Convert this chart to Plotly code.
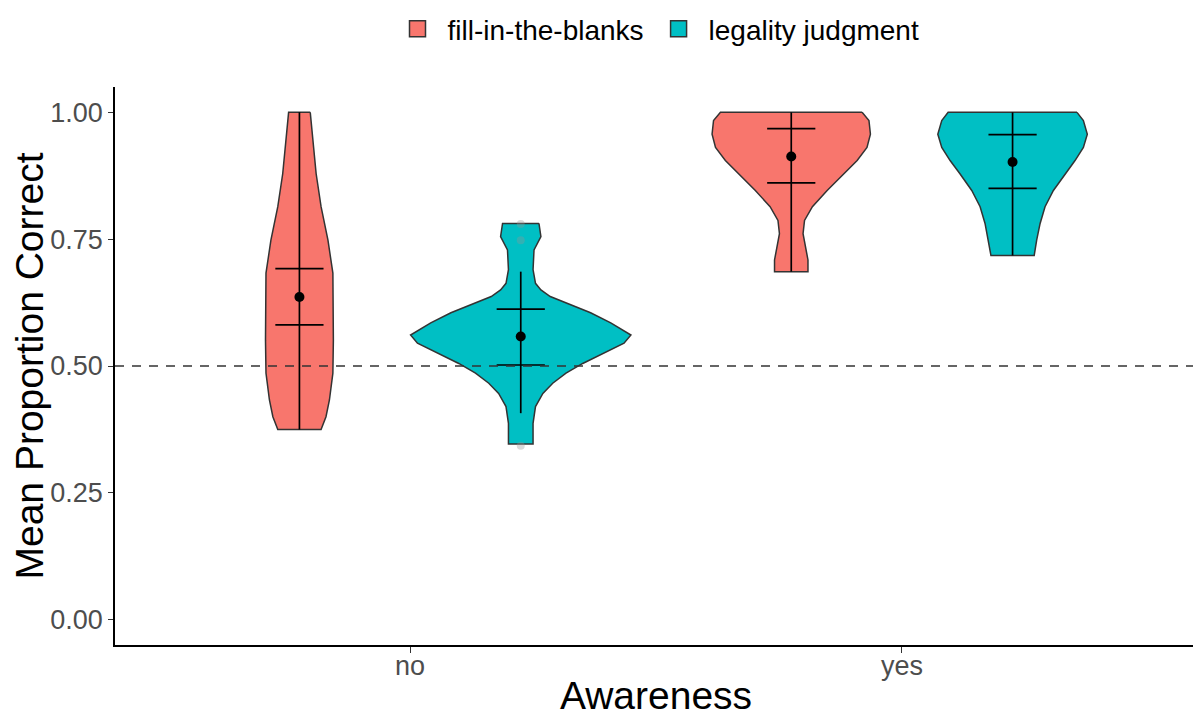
import plotly.graph_objects as go

# ---------------- data ----------------
categories = ["no", "yes"]
groups = ["fill-in-the-blanks", "legality judgment"]
colors = ["#F8766D", "#00BFC4"]

# violin outlines: y levels and half-widths (x-axis units)
fill_no_y = [1.00, 0.945, 0.879, 0.814, 0.748, 0.683, 0.617, 0.551, 0.486, 0.433, 0.400, 0.375]
fill_no_w = [0.022, 0.027, 0.034, 0.044, 0.058, 0.068, 0.069, 0.069, 0.068, 0.061, 0.054, 0.044]

leg_no_y = [0.781, 0.755, 0.729, 0.690, 0.663, 0.650, 0.637, 0.624, 0.605, 0.585, 0.561,
            0.545, 0.525, 0.505, 0.486, 0.466, 0.446, 0.420, 0.387, 0.346]
leg_no_w = [0.037, 0.041, 0.027, 0.025, 0.030, 0.041, 0.060, 0.094, 0.142, 0.183, 0.224,
            0.210, 0.167, 0.126, 0.092, 0.065, 0.045, 0.030, 0.025, 0.025]

fill_yes_y = [1.00, 0.984, 0.957, 0.931, 0.905, 0.879, 0.846, 0.814, 0.787, 0.761, 0.735, 0.709, 0.686]
fill_yes_w = [0.144, 0.158, 0.161, 0.154, 0.134, 0.107, 0.073, 0.043, 0.027, 0.024, 0.029, 0.034, 0.034]

leg_yes_y = [1.00, 0.984, 0.957, 0.931, 0.905, 0.879, 0.846, 0.814, 0.781, 0.748, 0.718]
leg_yes_w = [0.131, 0.144, 0.152, 0.144, 0.127, 0.107, 0.083, 0.066, 0.056, 0.049, 0.044]

# summary statistics per group (no, yes)
fill_mean = [0.636, 0.913]
fill_bar_lo = [0.581, 0.861]
fill_bar_hi = [0.692, 0.968]
fill_line_lo = [0.375, 0.686]
fill_line_hi = [1.000, 1.000]

leg_mean = [0.558, 0.902]
leg_bar_lo = [0.502, 0.850]
leg_bar_hi = [0.612, 0.956]
leg_line_lo = [0.407, 0.718]
leg_line_hi = [0.686, 1.000]

# faint outlier points (legality judgment, awareness = no)
leg_no_outliers = [0.780, 0.748, 0.343]

chance_level = 0.5
y_ticks = [0.00, 0.25, 0.50, 0.75, 1.00]

# ---------------- figure ----------------
DODGE = 0.225
CAP = 0.049
OUT = "#333333"

fig = go.Figure()

profiles = [
    [(fill_no_y, fill_no_w), (fill_yes_y, fill_yes_w)],
    [(leg_no_y, leg_no_w), (leg_yes_y, leg_yes_w)],
]
stats = [
    (fill_mean, fill_bar_lo, fill_bar_hi, fill_line_lo, fill_line_hi),
    (leg_mean, leg_bar_lo, leg_bar_hi, leg_line_lo, leg_line_hi),
]

for gi, g in enumerate(groups):
    off = -DODGE if gi == 0 else DODGE
    for ci in range(len(categories)):
        xc = ci + 1 + off
        ys, ws = profiles[gi][ci]
        px = [xc + w for w in ws] + [xc - w for w in reversed(ws)]
        py = list(ys) + list(reversed(ys))
        px.append(px[0]); py.append(py[0])
        fig.add_trace(go.Scatter(
            x=px, y=py, mode="lines", fill="toself", fillcolor=colors[gi],
            line=dict(color=OUT, width=1.5), name=g, legendgroup=g,
            showlegend=False, hoverinfo="skip"))

# legend keys
for gi, g in enumerate(groups):
    fig.add_trace(go.Scatter(
        x=[None], y=[None], mode="markers", name=g, legendgroup=g,
        marker=dict(symbol="square", size=16, color=colors[gi], line=dict(color=OUT, width=1.5))))

# outliers
fig.add_trace(go.Scatter(
    x=[1 + DODGE] * len(leg_no_outliers), y=leg_no_outliers, mode="markers",
    marker=dict(color="rgba(150,150,150,0.35)", size=8), showlegend=False, hoverinfo="skip"))

for gi, g in enumerate(groups):
    off = -DODGE if gi == 0 else DODGE
    mean, blo, bhi, llo, lhi = stats[gi]
    lx, ly = [], []
    for ci in range(len(categories)):
        xc = ci + 1 + off
        lx += [xc, xc, None, xc - CAP, xc + CAP, None, xc - CAP, xc + CAP, None]
        ly += [llo[ci], lhi[ci], None, blo[ci], blo[ci], None, bhi[ci], bhi[ci], None]
    fig.add_trace(go.Scatter(x=lx, y=ly, mode="lines", line=dict(color="black", width=1.7),
                             showlegend=False, hoverinfo="skip"))
    fig.add_trace(go.Scatter(x=[c + 1 + off for c in range(len(categories))], y=mean,
                             mode="markers", marker=dict(color="black", size=10),
                             showlegend=False, hoverinfo="skip"))

fig.add_hline(y=chance_level, line=dict(color=OUT, width=1.5, dash="9px,8px"))

# the page puts the figure 8px from the top-left corner of the window
W, H = 1193, 709
FONT = "Liberation Sans, Arial, sans-serif"
fig.update_layout(
    template="none",
    width=W, height=H,
    margin=dict(l=107, r=4, t=79, b=72, autoexpand=False),
    plot_bgcolor="white", paper_bgcolor="white",
    font=dict(family=FONT, color="black"),
    showlegend=True,
    legend=dict(orientation="h", x=0.5, xanchor="center", xref="paper",
                y=1 - 21 / H, yanchor="middle", yref="container",
                font=dict(size=28, color="black"), itemsizing="trace", itemwidth=50,
                tracegroupgap=0, bgcolor="rgba(0,0,0,0)"),
    xaxis=dict(range=[0.4, 2.6], tickvals=[1, 2], ticktext=categories, automargin=False,
               showgrid=False, zeroline=False, showline=True, linecolor="black", linewidth=1.5,
               ticks="outside", ticklen=6, tickcolor=OUT, tickwidth=1.3,
               ticklabelstandoff=-10,
               tickfont=dict(size=27, color="#4D4D4D"),
               title=dict(text="Awareness", font=dict(size=39, color="black"), standoff=3)),
    yaxis=dict(range=[-0.05, 1.05], tickvals=y_ticks, ticktext=[f"{v:.2f}" for v in y_ticks],
               automargin=False,
               showgrid=False, zeroline=False, showline=True, linecolor="black", linewidth=1.5,
               ticks="outside", ticklen=5, tickcolor=OUT, tickwidth=1.3,
               tickfont=dict(size=27, color="#4D4D4D"),
               title=dict(text="Mean Proportion Correct", font=dict(size=39, color="black"), standoff=4)),
)

fig.write_html("out.html")
